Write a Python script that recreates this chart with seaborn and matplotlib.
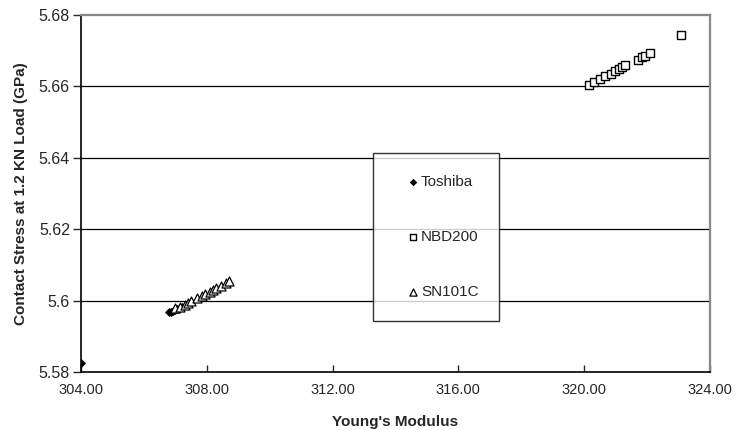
import pandas as pd
import matplotlib
matplotlib.use("Agg")
import matplotlib.pyplot as plt
import seaborn as sns

# Young's modulus vs contact stress
toshiba_x = [304.00, 306.80, 306.86, 306.92, 306.98, 307.04, 307.10, 307.16, 307.22]
toshiba_y = [5.5826, 5.5967, 5.5969, 5.5971, 5.5973, 5.5975, 5.5977, 5.5979, 5.5981]

nbd_x = [320.15, 320.33, 320.50, 320.68, 320.85, 321.00, 321.12, 321.22, 321.30,
         321.72, 321.85, 321.95, 322.10, 323.10]
nbd_y = [5.6605, 5.6612, 5.6620, 5.6628, 5.6636, 5.6643, 5.6650, 5.6655, 5.6660,
         5.6675, 5.6682, 5.6686, 5.6694, 5.6744]

sn_x = [307.00, 307.15, 307.30, 307.40, 307.50, 307.70, 307.85, 307.95,
        308.10, 308.20, 308.30, 308.45, 308.60, 308.72]
sn_y = [5.5978, 5.5983, 5.5988, 5.5993, 5.5998, 5.6006, 5.6012, 5.6018,
        5.6024, 5.6030, 5.6036, 5.6042, 5.6050, 5.6056]

x_ticks = [304, 308, 312, 316, 320, 324]
y_ticks = [5.58, 5.60, 5.62, 5.64, 5.66, 5.68]
y_tick_labels = ["5.58", "5.6", "5.62", "5.64", "5.66", "5.68"]

sns.set_style("white")
plt.rcParams["font.family"] = ["Liberation Sans", "DejaVu Sans"]

fig = plt.figure(figsize=(7.37, 4.30), dpi=100)
ax = fig.add_axes([0.110, 0.135, 0.853, 0.830])

sns.scatterplot(x=toshiba_x, y=toshiba_y, ax=ax, marker="D", s=16,
                color="black", edgecolor="black", linewidth=0.6, label="Toshiba", zorder=3)
sns.scatterplot(x=nbd_x, y=nbd_y, ax=ax, marker="s", s=36,
                facecolor="white", edgecolor="black", linewidth=1.0, label="NBD200", zorder=3)
sns.scatterplot(x=sn_x, y=sn_y, ax=ax, marker="^", s=42,
                facecolor="white", edgecolor="black", linewidth=0.9, label="SN101C", zorder=3)

ax.set_xlim(304, 324)
ax.set_ylim(5.58, 5.68)
ax.set_xticks(x_ticks)
ax.set_xticklabels([f"{v:.2f}" for v in x_ticks])
ax.set_yticks(y_ticks)
ax.set_yticklabels(y_tick_labels)

for v in y_ticks[1:-1]:
    ax.axhline(v, color="black", linewidth=0.9, zorder=1)

ax.tick_params(axis="x", direction="in", length=5, width=1, labelsize=10.5, pad=8)
ax.tick_params(axis="y", direction="out", length=6, width=1, labelsize=11.5, pad=2)
ax.tick_params(bottom=True, left=True)

for side in ["left", "bottom"]:
    ax.spines[side].set_color("black")
    ax.spines[side].set_linewidth(1.2)
for side in ["top", "right"]:
    ax.spines[side].set_color("#888888")
    ax.spines[side].set_linewidth(1.6)

ax.set_xlabel("Young's Modulus", fontsize=11, fontweight="bold", labelpad=13)
ax.set_ylabel("Contact Stress at 1.2 KN Load (GPa)", fontsize=11, fontweight="bold", labelpad=8)

# legend box: fixed width via mode="expand"
leg = ax.legend(loc="upper left", bbox_to_anchor=(0.464, 0.145, 0.200, 0.468), mode="expand",
                frameon=True, fancybox=False, edgecolor="black", fontsize=11,
                labelspacing=2.71, handletextpad=-0.74, borderpad=1.4, borderaxespad=0,
                markerscale=0.8, handlelength=2.5, handleheight=0.7)
leg.get_frame().set_linewidth(1.0)

fig.savefig("out.png", dpi=100)
